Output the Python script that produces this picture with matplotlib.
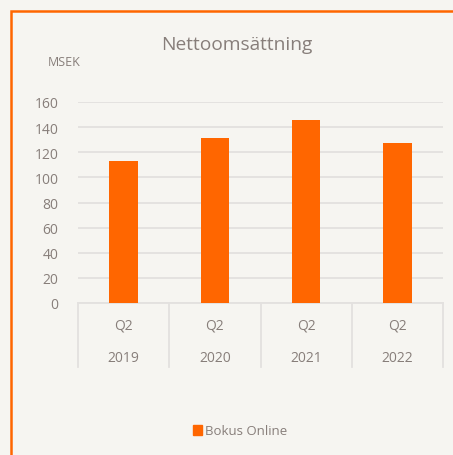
import matplotlib.pyplot as plt
import matplotlib.patches as mpatches
import matplotlib.transforms as mtransforms
import numpy as np

quarters = ['Q2', 'Q2', 'Q2', 'Q2']
years = ['2019', '2020', '2021', '2022']
values = [113, 131, 146, 127]
series_name = 'Bokus Online'

orange = '#ff6600'
bg = '#f6f5f1'
txt = '#877e7a'
grid = '#e3e1df'

plt.rcParams['font.family'] = ['Open Sans', 'DejaVu Sans']

W, H = 453, 456
fig = plt.figure(figsize=(W / 100, H / 100), dpi=100, facecolor=bg)

# orange frame (runs off the right and bottom edges)
fig.patches.append(mpatches.Rectangle((10.5 / W, -0.1), 1.2, 1 - 11.5 / H + 0.1,
                                      transform=fig.transFigure, fill=False,
                                      edgecolor=orange, linewidth=1.8))

ax = fig.add_axes([78 / W, 1 - 304 / H, (443 - 78) / W, (304 - 103) / H])
ax.set_facecolor(bg)
x = np.arange(len(values))
ax.bar(x, values, width=0.31, color=orange, zorder=3)
ax.set_xlim(-0.5, len(values) - 0.5)
ax.set_ylim(0, 160)
ax.set_yticks(range(0, 161, 20))
ax.yaxis.grid(True, color=grid, linewidth=1.3)
ax.set_axisbelow(True)
for s in ax.spines.values():
    s.set_visible(False)
ax.tick_params(axis='y', length=0, labelsize=10, labelcolor=txt, pad=14)
ax.tick_params(axis='x', length=0, labelbottom=False)

# two-level category axis
tr = mtransforms.blended_transform_factory(ax.transData, ax.transAxes)
ax.plot([-0.5, len(values) - 0.5], [0, 0], transform=tr, color=grid, lw=1.3, clip_on=False)
for b in np.arange(-0.5, len(values), 1.0):
    ax.plot([b, b], [0, -0.318], transform=tr, color=grid, lw=1.3, clip_on=False)
for i in x:
    ax.text(i, -0.11, quarters[i], transform=tr, ha='center', va='center', fontsize=10, color=txt)
    ax.text(i, -0.27, years[i], transform=tr, ha='center', va='center', fontsize=10, color=txt)

fig.text(237 / W, 1 - 45 / H, 'Nettoomsättning', ha='center', va='center', fontsize=13.8, color=txt)
fig.text(64 / W, 1 - 62 / H, 'MSEK', ha='center', va='center', fontsize=9, color=txt)

handle = mpatches.Patch(color=orange, label=series_name)
fig.legend(handles=[handle], loc='center', bbox_to_anchor=(240 / W, 1 - 432 / H),
           frameon=False, fontsize=9.5, labelcolor=txt, handlelength=0.7,
           handleheight=0.7, handletextpad=0.2)

fig.savefig('out.png', dpi=100, facecolor=bg)
